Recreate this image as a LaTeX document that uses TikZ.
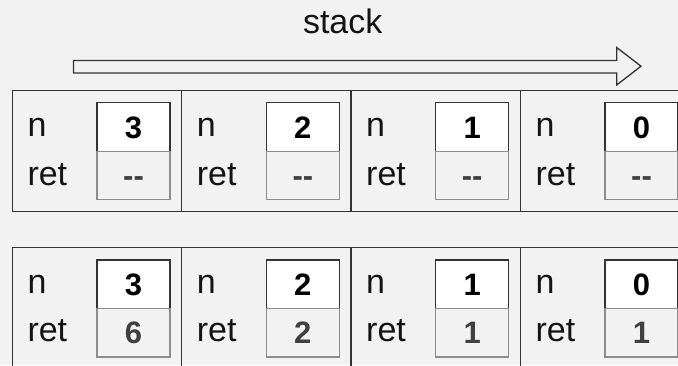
\documentclass[tikz,border=0pt]{standalone}
\usepackage{fontspec}
\setmainfont{Liberation Sans}
\definecolor{bg}{HTML}{F2F2F2}
\definecolor{lineC}{HTML}{333333}
\definecolor{valC}{HTML}{404040}
\begin{document}
\begin{tikzpicture}[x=1pt,y=-1pt,
  cell/.style={draw=lineC, line width=1.3pt, minimum width=169.35pt, minimum height=121pt, inner sep=0pt},
  valtop/.style={draw=lineC, fill=white, line width=1.2pt, minimum width=73pt, minimum height=48.5pt,
     inner sep=0pt, text height=22pt, text depth=0pt, font=\fontsize{31}{31}\selectfont\bfseries, text=black},
  valbot/.style={draw=black!45, fill=bg, line width=1.2pt, minimum width=73pt, minimum height=48.5pt,
     inner sep=0pt, text height=22pt, text depth=0pt, font=\fontsize{31}{31}\selectfont\bfseries, text=valC},
  lbl/.style={anchor=base west, inner sep=0pt, font=\fontsize{34}{34}\selectfont, text=black!92},
  title/.style={anchor=base, inner sep=0pt, font=\fontsize{34}{34}\selectfont, text=black!92},
  blockarrow/.style={draw=lineC, fill=bg, line width=1.3pt, line join=miter}
]
\useasboundingbox (0,0) rectangle (678,365);
\fill[bg] (0,0) rectangle (678,365);
\clip (0,0) rectangle (678,365);

\node[title] (stack) at (342.7,33) {stack};
\draw[blockarrow] (73.5,60.5) -- (616.7,60.5) -- (616.7,47.5) -- (641,66.2)
  -- (616.7,85) -- (616.7,73) -- (73.5,73) -- cycle;

% row 1 (before): ret unknown
\foreach \c/\n in {0/3,1/2,2/1,3/0}{
  \pgfmathsetmacro{\lx}{12.3+169.35*\c}
  \node[cell] (a\c) at (\lx+84.675,151.2) {};
  \node[valtop] (an\c) at (\lx+121.2,127.1) {\n};
  \node[valbot] (ar\c) at (\lx+121.2,175.6) {-{}-};
  \node[lbl] (al\c) at (\lx+15,136.7) {n};
  \node[lbl] (am\c) at (\lx+15,185.0) {ret};
}
% row 2 (after): ret filled
\foreach \c/\n/\v in {0/3/6,1/2/2,2/1/1,3/0/1}{
  \pgfmathsetmacro{\lx}{12.3+169.35*\c}
  \node[cell] (b\c) at (\lx+84.675,307.8) {};
  \node[valtop] (bn\c) at (\lx+121.2,284.2) {\n};
  \node[valbot] (br\c) at (\lx+121.2,332.7) {\v};
  \node[lbl] (bl\c) at (\lx+15,293.6) {n};
  \node[lbl] (bm\c) at (\lx+15,341.9) {ret};
}
\end{tikzpicture}
\end{document}
